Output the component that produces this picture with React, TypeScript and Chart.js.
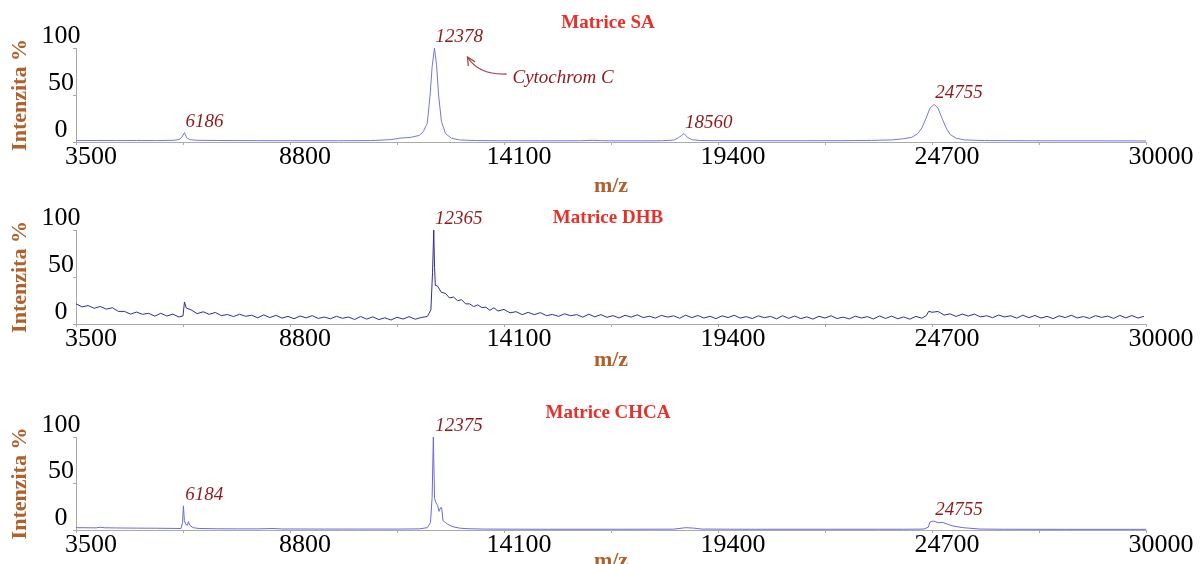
import React, { useEffect, useRef } from "react";
import { Chart, registerables } from "chart.js";

Chart.register(...registerables);

// ---------- data ----------
const xTickValues = [3500, 6150, 8800, 11450, 14100, 16750, 19400, 22050, 24700, 27350, 30000];
const xTickLabels = ["3500", "", "8800", "", "14100", "", "19400", "", "24700", "", "30000"];
const yTickValues = [0, 25, 50, 75, 100];
const yTickLabels = ["0", "", "50", "", "100"];

const panelTitles = ["Matrice SA", "Matrice DHB", "Matrice CHCA"];
const yAxisTitle = "Intenzita %";
const xAxisTitle = "m/z";
const cytochromeNote = "Cytochrom C";

// [m/z, intensity %]
const saSpectrum: [number, number][] = [
  [3500, 1.5], [4000, 1.6], [4500, 1.5], [5000, 1.6], [5500, 1.5], [5900, 1.8], [6050, 2.5], [6120, 5],
  [6186, 10], [6240, 4.5], [6320, 2.5], [6500, 1.8], [7000, 1.6], [8000, 1.4], [9000, 1.3], [10000, 1.3],
  [10800, 1.5], [11300, 2.5], [11500, 4], [11800, 5], [12000, 7], [12100, 11], [12200, 20], [12270, 50],
  [12320, 80], [12378, 100], [12430, 82], [12480, 50], [12550, 22], [12650, 9], [12800, 4], [13000, 2.2],
  [13400, 1.5], [14000, 1.3], [15000, 1.2], [16000, 1.3], [16300, 1.8], [16500, 1.4], [16800, 1.2], [17500, 1.2],
  [18000, 1.3], [18300, 2], [18420, 4.5], [18500, 7], [18560, 9], [18640, 5], [18750, 2.5], [18950, 1.6],
  [19500, 1.3], [20500, 1.3], [21500, 1.3], [22500, 1.4], [23200, 1.7], [23700, 2.2], [24000, 3.5], [24200, 5],
  [24350, 9], [24450, 15], [24550, 25], [24650, 36], [24755, 40], [24850, 36], [24950, 25], [25050, 15],
  [25150, 8], [25300, 4], [25500, 2.2], [26000, 1.5], [27000, 1.3], [28000, 1.2], [29000, 1.2], [30000, 1.1],
];

const dhbSpectrum: [number, number][] = [
  [3500, 21.5], [3650, 18.2], [3800, 19.6], [3950, 16.7], [4100, 18.7], [4250, 15.8], [4400, 17.3], [4550, 13.4],
  [4700, 13.4], [4850, 10.5], [5000, 12.7], [5150, 10.3], [5300, 11.4], [5450, 8.4], [5600, 11.4], [5750, 8.5],
  [5900, 10.5], [6050, 7.4], [6150, 8.6], [6186, 23.5], [6230, 17.0], [6350, 15.1], [6500, 11.0], [6650, 13.0],
  [6800, 10.3], [6950, 12.3], [7100, 8.9], [7250, 10.1], [7400, 7.9], [7550, 10.4], [7700, 8.2], [7850, 9.3],
  [8000, 6.6], [8150, 9.7], [8300, 6.8], [8450, 9.2], [8600, 6.3], [8750, 8.1], [8900, 5.6], [9050, 8.5],
  [9200, 6.5], [9350, 8.9], [9500, 5.9], [9650, 7.4], [9800, 5.5], [9950, 8.2], [10100, 6.1], [10250, 7.4],
  [10400, 4.8], [10550, 8.0], [10700, 5.2], [10850, 7.6], [11000, 4.7], [11150, 6.6], [11300, 4.2], [11450, 7.2],
  [11600, 5.3], [11750, 7.8], [11900, 5.1], [12050, 6.9], [12200, 8.0], [12290, 15], [12330, 55], [12360, 100],
  [12380, 60], [12400, 41], [12450, 40.5], [12550, 33.7], [12650, 32.6], [12750, 27.7], [12850, 28.7], [12950, 24.8],
  [13050, 25.8], [13150, 21.4], [13250, 21.4], [13350, 18.5], [13450, 20.4], [13550, 17.5], [13650, 17.9], [13750, 14.6],
  [13850, 17.2], [13950, 13.8], [14100, 15.5], [14250, 11.9], [14400, 13.1], [14550, 10.0], [14700, 12.4], [14850, 9.9],
  [15000, 12.1], [15150, 8.9], [15300, 10.2], [15450, 8.1], [15600, 10.9], [15750, 8.8], [15900, 10.0], [16050, 7.3],
  [16200, 10.4], [16350, 7.6], [16500, 10.0], [16650, 7.1], [16800, 8.9], [16950, 6.4], [17100, 9.3], [17250, 7.3],
  [17400, 9.8], [17550, 6.8], [17700, 8.3], [17850, 6.3], [18000, 9.2], [18150, 7.3], [18300, 8.7], [18450, 6.1],
  [18600, 9.4], [18750, 6.7], [18900, 9.1], [19050, 6.3], [19200, 8.2], [19350, 5.7], [19500, 8.7], [19650, 6.8],
  [19800, 9.3], [19950, 6.3], [20100, 7.8], [20250, 5.8], [20400, 8.7], [20550, 6.7], [20700, 8.1], [20850, 5.5],
  [21000, 8.8], [21150, 6.0], [21300, 8.5], [21450, 5.7], [21600, 7.6], [21750, 5.2], [21900, 8.2], [22050, 6.3],
  [22200, 8.8], [22350, 5.8], [22500, 7.3], [22650, 5.4], [22800, 8.3], [22950, 6.4], [23100, 7.8], [23250, 5.3],
  [23400, 8.6], [23550, 5.9], [23700, 8.4], [23850, 5.6], [24000, 7.5], [24150, 5.1], [24300, 8.1], [24450, 6.2],
  [24560, 9], [24620, 13.5], [24700, 12.5], [24850, 13.3], [25000, 9.5], [25150, 10.8], [25300, 8.0], [25450, 10.6],
  [25600, 8.4], [25750, 10.6], [25900, 7.5], [26050, 8.8], [26200, 6.7], [26350, 9.5], [26500, 7.5], [26650, 8.8],
  [26800, 6.2], [26950, 9.4], [27100, 6.7], [27250, 9.1], [27400, 6.3], [27550, 8.1], [27700, 5.7], [27850, 8.7],
  [28000, 6.8], [28150, 9.3], [28300, 6.4], [28450, 7.9], [28600, 6.0], [28750, 8.9], [28900, 7.0], [29050, 8.4],
  [29200, 5.9], [29350, 9.2], [29500, 6.5], [29650, 9.0], [29800, 6.3], [29950, 8.2],
];

const chcaSpectrum: [number, number][] = [
  [3500, 2.5], [3800, 2.4], [4000, 2.3], [4100, 3], [4200, 2.4], [4500, 2.2], [5000, 2.0], [5500, 1.9],
  [5900, 1.7], [6100, 1.6], [6140, 8], [6160, 26], [6185, 10], [6220, 6], [6260, 5], [6285, 9],
  [6320, 5], [6400, 2.5], [6550, 1.6], [7000, 1.3], [7500, 1.2], [8000, 1.2], [8380, 1.6], [8600, 1.1],
  [9500, 1.0], [10500, 1.0], [11500, 1.0], [12000, 1.2], [12200, 2.5], [12280, 8], [12320, 35], [12350, 100],
  [12380, 34], [12410, 30], [12432, 28], [12460, 26], [12490, 20], [12530, 24], [12556, 24], [12590, 10],
  [12650, 8], [12710, 6], [12836, 3.5], [13000, 2], [13183, 1.4], [13600, 1], [15000, 0.8], [17000, 0.8],
  [18300, 0.9], [18600, 2.5], [18800, 2.0], [19000, 1], [20000, 0.8], [22000, 0.8], [24000, 0.8], [24500, 1],
  [24607, 3], [24650, 8.5], [24730, 9.7], [24800, 8.7], [24854, 7.9], [24978, 8], [25100, 6], [25220, 4.3],
  [25470, 2.5], [25890, 1], [26500, 0.8], [28000, 0.7], [30000, 0.7],
];

// labelled peaks: [m/z, intensity at top]
const saPeaks: [number, number][] = [[6186, 10], [12378, 100], [18560, 9], [24755, 40]];
const dhbPeaks: [number, number][] = [[12365, 100]];
const chcaPeaks: [number, number][] = [[6184, 26], [12375, 100], [24755, 9.7]];

// ---------- styles ----------
const SERIF = "'Liberation Serif', 'Times New Roman', serif";
const TITLE_RED = "#e8302a";
const NOTE_RED = "#8e1b1b";
const ARROW_RED = "#a54545";
const AXIS_BROWN = "#b0602a";
const AXIS_GREY = "#aaaaaa";
const W = 1200;
const H = 564;

type Panel = {
  key: string;
  title: string;
  spectrum: [number, number][];
  peaks: [number, number][];
  color: string;
  lineWidth: number;
  top: number;
  bottom: number;
  titleY: number;
  xTitleY: number;
  arrowPeak?: number;
};

const panels: Panel[] = [
  { key: "sa", title: panelTitles[0], spectrum: saSpectrum, peaks: saPeaks, color: "#7676e2", lineWidth: 1, top: 48, bottom: 142, titleY: 23, xTitleY: 186, arrowPeak: 12378 },
  { key: "dhb", title: panelTitles[1], spectrum: dhbSpectrum, peaks: dhbPeaks, color: "#2c2ca2", lineWidth: 1, top: 230, bottom: 324, titleY: 218, xTitleY: 360 },
  { key: "chca", title: panelTitles[2], spectrum: chcaSpectrum, peaks: chcaPeaks, color: "#6a6ada", lineWidth: 1, top: 437, bottom: 530, titleY: 413, xTitleY: 561 },
];

function notesPlugin(p: Panel) {
  return {
    id: "notes_" + p.key,
    afterDraw(chart: any) {
      const { ctx } = chart;
      const xs = chart.scales.x;
      const ys = chart.scales.y;
      ctx.save();
      ctx.font = `bold 19px ${SERIF}`;
      ctx.fillStyle = TITLE_RED;
      ctx.textAlign = "center";
      ctx.textBaseline = "middle";
      ctx.fillText(p.title, 608, p.titleY);

      ctx.font = `italic 19px ${SERIF}`;
      ctx.fillStyle = NOTE_RED;
      ctx.textAlign = "left";
      p.peaks.forEach(([mz, h]) => {
        ctx.fillText(String(mz), xs.getPixelForValue(mz) + 1, ys.getPixelForValue(h) - 11);
      });

      if (p.arrowPeak) {
        const peak = p.peaks.find((pk) => pk[0] === p.arrowPeak)!;
        const px = xs.getPixelForValue(peak[0]);
        const py = ys.getPixelForValue(peak[1]);
        ctx.fillText(cytochromeNote, px + 78, py + 30);
        const tx = px + 72, ty = py + 26;
        const hx = px + 33, hy = py + 9;
        const cx = px + 44, cy = py + 27;
        ctx.strokeStyle = ARROW_RED;
        ctx.lineWidth = 1.3;
        ctx.beginPath();
        ctx.moveTo(tx, ty);
        ctx.quadraticCurveTo(cx, cy, hx, hy);
        ctx.stroke();
        const ang = Math.atan2(hy - cy, hx - cx);
        const len = 9;
        ctx.beginPath();
        ctx.moveTo(hx - len * Math.cos(ang - 0.45), hy - len * Math.sin(ang - 0.45));
        ctx.lineTo(hx, hy);
        ctx.lineTo(hx - len * Math.cos(ang + 0.45), hy - len * Math.sin(ang + 0.45));
        ctx.stroke();
      }
      ctx.restore();
    },
  };
}

function SpectrumPanel({ p }: { p: Panel }) {
  const ref = useRef<HTMLCanvasElement>(null);
  useEffect(() => {
    const canvas = ref.current;
    if (!canvas) return;
    const titleFont = { family: SERIF, size: 22, weight: "bold" as const };
    const halfLine = (22 * 1.2) / 2;
    const xHeight = p.xTitleY - p.bottom + halfLine;
    const chart = new Chart(canvas, {
      type: "line",
      data: {
        datasets: [
          {
            data: p.spectrum.map(([x, y]) => ({ x, y })),
            borderColor: p.color,
            borderWidth: p.lineWidth,
            pointRadius: 0,
            tension: 0,
            fill: false,
          },
        ],
      },
      options: {
        responsive: false,
        animation: false,
        events: [],
        layout: { padding: { top: p.top, left: 0, right: 54, bottom: H - p.bottom - xHeight } },
        plugins: { legend: { display: false }, tooltip: { enabled: false }, title: { display: false } },
        scales: {
          x: {
            type: "linear",
            min: 3500,
            max: 30000,
            afterBuildTicks: (s: any) => {
              s.ticks = xTickValues.map((v) => ({ value: v }));
            },
            afterFit: (s: any) => {
              s.height = xHeight;
            },
            border: { color: AXIS_GREY, width: 1 },
            grid: { drawOnChartArea: false, drawTicks: true, tickLength: 3, color: AXIS_GREY },
            ticks: {
              autoSkip: false,
              maxRotation: 0,
              color: "#000",
              font: { family: SERIF, size: 26 },
              padding: -3,
              labelOffset: 15,
              callback: (_v: any, i: number) => xTickLabels[i],
            },
            title: { display: true, text: xAxisTitle, color: AXIS_BROWN, font: titleFont, padding: { top: 0, bottom: 0 } },
          },
          y: {
            type: "linear",
            min: 0,
            max: 100,
            afterBuildTicks: (s: any) => {
              s.ticks = yTickValues.map((v) => ({ value: v }));
            },
            afterFit: (s: any) => {
              s.width = 76;
            },
            border: { color: AXIS_GREY, width: 1 },
            grid: { drawOnChartArea: false, drawTicks: true, tickLength: 3, color: AXIS_GREY },
            ticks: {
              color: "#000",
              font: { family: SERIF, size: 26 },
              mirror: true,
              crossAlign: "center",
              padding: -34.5,
              labelOffset: -12,
              callback: (_v: any, i: number) => yTickLabels[i],
            },
            title: { display: true, text: yAxisTitle, color: AXIS_BROWN, font: titleFont, padding: { top: 7, bottom: 0 } },
          },
        },
      },
      plugins: [notesPlugin(p)],
    } as any);
    return () => chart.destroy();
  }, [p]);
  return (
    <canvas
      ref={ref}
      width={W}
      height={H}
      style={{ position: "absolute", left: 0, top: 0, width: W, height: H }}
    />
  );
}

export default function App() {
  return (
    <div style={{ position: "absolute", left: 0, top: 0, width: W, height: H, background: "#fff", overflow: "hidden" }}>
      {panels.map((p) => (
        <SpectrumPanel key={p.key} p={p} />
      ))}
    </div>
  );
}
